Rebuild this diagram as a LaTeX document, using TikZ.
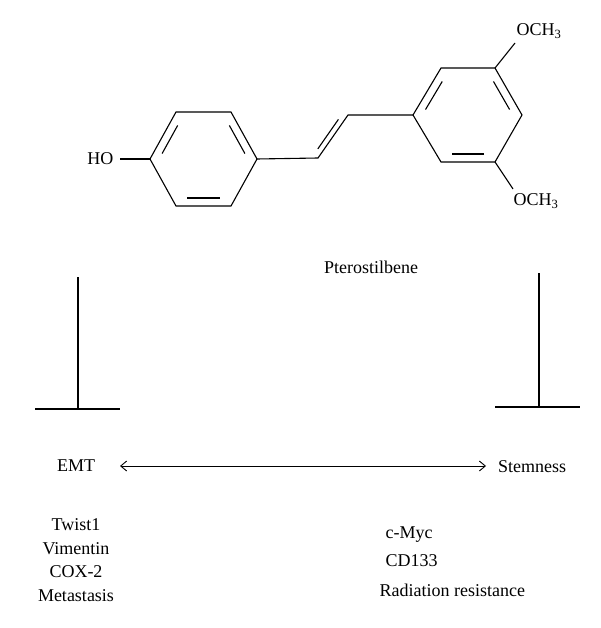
\documentclass[tikz,border=0pt]{standalone}
\usepackage{fontspec}
\setmainfont{Liberation Serif}
\usetikzlibrary{arrows.meta,calc}
\newcommand\innerbond[3]{%
  \coordinate (ibp) at ($(#1)!0.17!(#3)$);
  \coordinate (ibq) at ($(#2)!0.17!(#3)$);
  \draw ($(ibp)!0.14!(ibq)$) -- ($(ibq)!0.14!(ibp)$);}
\begin{document}
\begin{tikzpicture}[x=1pt,y=-1pt,line width=1.1pt,
  lbl/.style={font=\fontsize{18}{21}\selectfont,inner sep=0pt}]
\useasboundingbox (0,0) rectangle (600,628);
% left ring
\coordinate (a1) at (150,159); \coordinate (a2) at (176,112); \coordinate (a3) at (231,112);
\coordinate (a4) at (257,159); \coordinate (a5) at (231,206); \coordinate (a6) at (176,206);
\coordinate (ac) at (203.5,159);
\draw (a1)--(a2)--(a3)--(a4)--(a5)--(a6)--cycle;
\innerbond{a1}{a2}{ac}
\innerbond{a3}{a4}{ac}
\innerbond{a5}{a6}{ac}
% right ring
\coordinate (b1) at (413,115); \coordinate (b2) at (441,68); \coordinate (b3) at (495,68);
\coordinate (b4) at (522,115); \coordinate (b5) at (495,162); \coordinate (b6) at (441,162);
\coordinate (bc) at (467.5,115);
\draw (b1)--(b2)--(b3)--(b4)--(b5)--(b6)--cycle;
\innerbond{b1}{b2}{bc}
\innerbond{b3}{b4}{bc}
\innerbond{b5}{b6}{bc}
% vinyl
\coordinate (v1) at (318,158); \coordinate (v2) at (348,115);
\coordinate (vc) at (290,120);
\draw (a4)--(v1)--(v2)--(b1);
\coordinate (ivp) at ($(v1)!0.12!(vc)$); \coordinate (ivq) at ($(v2)!0.12!(vc)$);
\draw ($(ivp)!0.12!(ivq)$) -- ($(ivq)!0.1!(ivp)$);
% substituents
\node[lbl,anchor=east] (ho) at (114,159) {HO};
\coordinate (hoe) at (120,159);
\draw (hoe) -- (a1);
\node[lbl,anchor=west] (o1) at (516,31) {OCH\textsubscript{3}};
\coordinate (o1b) at (515,43);
\draw (b3) -- (o1b);
\node[lbl,anchor=west] (o2) at (513,201) {OCH\textsubscript{3}};
\coordinate (o2b) at (513,189);
\draw (b5) -- (o2b);
\node[lbl] (pt) at (371,267) {Pterostilbene};
% inhibitors
\coordinate (l1) at (78,277); \coordinate (l2) at (78,409);
\coordinate (l3) at (35,409); \coordinate (l4) at (120,409);
\draw (l1)--(l2); \draw (l3)--(l4);
\coordinate (r1) at (539,273); \coordinate (r2) at (539,407);
\coordinate (r3) at (495,407); \coordinate (r4) at (580,407);
\draw (r1)--(r2); \draw (r3)--(r4);
% EMT / Stemness
\node[lbl] (emt) at (76,466) {EMT};
\node[lbl] (stem) at (532,467) {Stemness};
\coordinate (ea) at (120,466); \coordinate (sa) at (486,466);
\draw[{Straight Barb[length=6pt,width=10pt]}-{Straight Barb[length=6pt,width=10pt]},line width=0.9pt]
  (ea) -- (sa);
% lists
\node[lbl] (t1) at (76,525) {Twist1};
\node[lbl] (t2) at (76,549) {Vimentin};
\node[lbl] (t3) at (76,572) {COX-2};
\node[lbl] (t4) at (76,596) {Metastasis};
\node[lbl,anchor=west] (s1) at (385,535) {c-Myc};
\node[lbl,anchor=west] (s2) at (385,561) {CD133};
\node[lbl,anchor=west] (s3) at (379,590) {Radiation resistance};
\end{tikzpicture}
\end{document}
